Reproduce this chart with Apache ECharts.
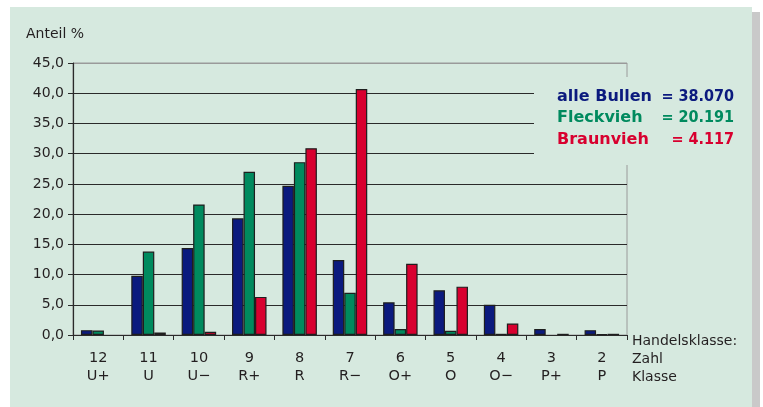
<!DOCTYPE html>
<html><head><meta charset="utf-8">
<script src="https://cdn.jsdelivr.net/npm/echarts@6/dist/echarts.min.js"></script>
<style>html,body{margin:0;padding:0;background:#fff}#c{width:763px;height:407px}</style>
</head><body><div id="c"></div>
<script>
const zahl = ['12','11','10','9','8','7','6','5','4','3','2'];
const klasse = ['U+','U','U\u2212','R+','R','R\u2212','O+','O','O\u2212','P+','P'];
const alleBullen = [0.8, 9.8, 14.4, 19.3, 24.7, 12.4, 5.4, 7.4, 5.0, 1.0, 0.8];
const fleckvieh  = [0.75, 13.8, 21.6, 27.0, 28.6, 7.0, 1.0, 0.7, 0.2, null, 0.1];
const braunvieh  = [null, 0.4, 0.55, 6.3, 30.9, 40.7, 11.8, 8.0, 1.9, 0.2, 0.2];
const legendNames = ['alle Bullen', 'Fleckvieh', 'Braunvieh'];
const legendTotals = ['= 38.070', '= 20.191', '= 4.117'];
const yTicks = [0,5,10,15,20,25,30,35,40,45];

const FONT = '"DejaVu Sans", sans-serif';
const FONT_C = '"DejaVu Sans Condensed", "DejaVu Sans", sans-serif';
const BG = '#d6e9df';
const TXT = '#231f20';
const COLORS = ['#0b1a7e', '#008a5e', '#d8002f'];

const chart = echarts.init(document.getElementById('c'), null, {renderer:'canvas'});
const cats = zahl.map((z,i)=> z + '\n' + klasse[i]);
const splitColors = yTicks.map((v,i)=> i === yTicks.length-1 ? '#9a9a9a' : '#2a2a2a');

function barSeries(name, data, color){
  return {
    name, type:'bar', data, barWidth: 11.5, barGap: '0%',
    itemStyle:{color, borderColor:'#1e1e1e', borderWidth:1.2},
    z: 3
  };
}

const legendY = [89, 110, 132];
const legendGraphics = [];
legendNames.forEach((n,i)=>{
  legendGraphics.push({type:'text', z:51, left:557, top:legendY[i], style:{text:n, fill:COLORS[i], font:'bold 16px '+FONT}});
  legendGraphics.push({type:'text', z:51, right:29, top:legendY[i], style:{text:legendTotals[i], fill:COLORS[i], font:'bold 16px '+FONT_C}});
});

chart.setOption({
  backgroundColor:'#ffffff',
  animation:false,
  grid:{left:73, right:136, top:63, bottom:72, show:true, borderColor:'#9a9a9a', borderWidth:1, backgroundColor:'transparent'},
  xAxis:{
    type:'category', data:cats,
    axisLine:{lineStyle:{color:'#2a2a2a', width:1.2}},
    axisTick:{show:true, length:5, alignWithLabel:false, interval:0, lineStyle:{color:'#2a2a2a'}},
    axisLabel:{interval:0, margin:14, color:TXT, fontFamily:FONT, fontSize:14.5, lineHeight:18},
    splitLine:{show:false}
  },
  yAxis:{
    type:'value', min:0, max:45, interval:5,
    axisLine:{show:true, lineStyle:{color:'#2a2a2a', width:1.2}},
    axisTick:{show:true, length:5, lineStyle:{color:'#2a2a2a'}},
    axisLabel:{margin:9, color:TXT, fontFamily:FONT, fontSize:14,
      formatter:v=> v.toFixed(1).replace('.',',')},
    splitLine:{show:true, lineStyle:{color:splitColors, width:1}}
  },
  series:[
    barSeries(legendNames[0], alleBullen, COLORS[0]),
    barSeries(legendNames[1], fleckvieh, COLORS[1]),
    barSeries(legendNames[2], braunvieh, COLORS[2])
  ],
  graphic:[
    {type:'rect', z:-10, shape:{x:752, y:12, width:8, height:395}, style:{fill:'#c9c9c9'}},
    {type:'rect', z:-9, shape:{x:10, y:7, width:742, height:400}, style:{fill:BG}},
    {type:'rect', z:50, shape:{x:534, y:77, width:210, height:88}, style:{fill:BG}},
    {type:'text', z:51, left:26, top:27, style:{text:'Anteil %', fill:TXT, font:'14px '+FONT}},
    ...legendGraphics,
    {type:'text', z:51, left:632, top:332, style:{text:'Handelsklasse:\nZahl\nKlasse', fill:TXT, font:'14px '+FONT, lineHeight:18}}
  ]
});
</script>
</body></html>
